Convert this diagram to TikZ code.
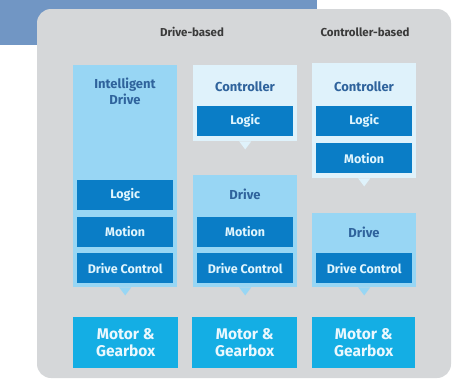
\documentclass[tikz,border=0pt]{standalone}
\usepackage{fontspec}
\setmainfont{Fira Sans}
\definecolor{band}{HTML}{7196C4}
\definecolor{panel}{HTML}{D5D7D9}
\definecolor{paleblue}{HTML}{DFF2FB}
\definecolor{lightblue}{HTML}{98D6F4}
\definecolor{darkblue}{HTML}{0A7DC6}
\definecolor{cyanblue}{HTML}{14AEE4}
\definecolor{labelblue}{HTML}{2F639C}
\definecolor{headgray}{HTML}{3A3A3A}
\tikzset{
  outer/.style={anchor=north west, inner sep=0pt, minimum width=104pt},
  hostpale/.style={outer, fill=paleblue},
  hostlight/.style={outer, fill=lightblue},
  hosttext/.style={anchor=north, inner sep=0pt, text=labelblue, font=\bfseries\fontsize{13}{15.5}\selectfont, align=center},
  part/.style={anchor=north west, inner sep=0pt, minimum width=96pt, minimum height=30pt,
    fill=darkblue, text=white!88!cyan, font=\bfseries\fontsize{12.5}{14}\selectfont},
  motor/.style={anchor=north west, inner sep=0pt, minimum width=105pt, minimum height=51pt,
    fill=cyanblue, text=white!92!cyan, font=\bfseries\fontsize{15.5}{17}\selectfont, align=center},
  header/.style={inner sep=0pt, text=headgray, font=\bfseries\fontsize{11.5}{13}\selectfont},
  tail/.style={fill=#1}
}
\begin{document}
\begin{tikzpicture}[x=1pt,y=-1pt]
  \useasboundingbox (0,0) rectangle (453,380);
  % backdrop
  \fill[band] (0,0) rectangle (317,45);
  \fill[panel, rounded corners=14pt] (37,9) rectangle (451,378);

  % column headings
  \node[header] (hdrive) at (192,32) {Drive-based};
  \node[header] (hctrl) at (365,32) {Controller-based};

  % column 1: intelligent drive
  \node[hostlight, minimum height=222pt] (idrive) at (73,65) {};
  \node[hosttext] (idrivetxt) at (125,78) {Intelligent\\Drive};
  \node[part] (ilogic) at (77,180) {Logic};
  \node[part] (imotion) at (77,216.5) {Motion};
  \node[part] (icontrol) at (77,253) {Drive Control};
  \node[motor] (imotor) at (73,317) {Motor \&\\Gearbox};
  \fill[tail=lightblue] ([xshift=-6pt]idrive.south) -- ([xshift=6pt]idrive.south) -- ([yshift=-8pt]idrive.south) -- cycle;

  % column 2: controller plus drive
  \node[hostpale, minimum height=76pt] (dctrl) at (193,65) {};
  \node[hosttext] (dctrltxt) at (245,81) {Controller};
  \node[part] (dlogic) at (197,106) {Logic};
  \fill[tail=paleblue] ([xshift=-6pt]dctrl.south) -- ([xshift=6pt]dctrl.south) -- ([yshift=-8pt]dctrl.south) -- cycle;
  \node[hostlight, minimum height=112pt] (ddrive) at (193,175) {};
  \node[hosttext] (ddrivetxt) at (245,189) {Drive};
  \node[part] (dmotion) at (197,216.5) {Motion};
  \node[part] (dcontrol) at (197,253) {Drive Control};
  \fill[tail=lightblue] ([xshift=-6pt]ddrive.south) -- ([xshift=6pt]ddrive.south) -- ([yshift=-8pt]ddrive.south) -- cycle;
  \node[motor] (dmotor) at (192,317) {Motor \&\\Gearbox};

  % column 3: controller-based
  \node[hostpale, minimum height=115pt] (cctrl) at (312,63) {};
  \node[hosttext] (cctrltxt) at (364,81) {Controller};
  \node[part] (clogic) at (316,106) {Logic};
  \node[part] (cmotion) at (316,143) {Motion};
  \fill[tail=paleblue] ([xshift=-6pt]cctrl.south) -- ([xshift=6pt]cctrl.south) -- ([yshift=-8pt]cctrl.south) -- cycle;
  \node[hostlight, minimum height=74pt] (cdrive) at (312,213) {};
  \node[hosttext] (cdrivetxt) at (364,227) {Drive};
  \node[part] (ccontrol) at (316,253) {Drive Control};
  \fill[tail=lightblue] ([xshift=-6pt]cdrive.south) -- ([xshift=6pt]cdrive.south) -- ([yshift=-8pt]cdrive.south) -- cycle;
  \node[motor, minimum width=103pt] (cmotor) at (312,317) {Motor \&\\Gearbox};
\end{tikzpicture}
\end{document}
